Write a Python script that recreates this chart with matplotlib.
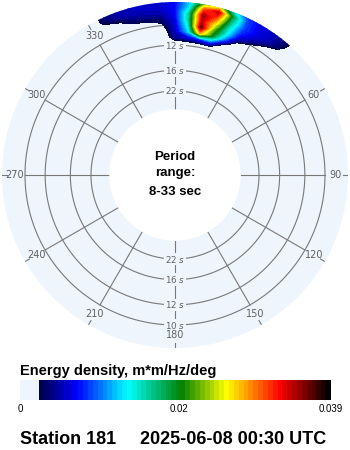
import numpy as np
import matplotlib
matplotlib.use("Agg")
import matplotlib.pyplot as plt
from matplotlib.colors import LinearSegmentedColormap, Normalize
from matplotlib.cm import ScalarMappable

# ---------------- data ----------------
dirs_deg = [-30, -25, -20, -15, -10, -5, 0, 5, 10, 15, 20, 25, 30, 35, 40, 45]
freqs_hz = [0.080, 0.085, 0.090, 0.095, 0.100, 0.105, 0.110, 0.115, 0.120]
# energy density in 1e-3 m*m/Hz/deg, one row per frequency
energy_milli = [
    [0, 0,   0,   0,   0,   0,   0,   0,  0,  0,  0,   0,   0,   0,   0,   0],
    [0, 0,   0,   0,   0,   0,   0.5, 0.5, 0.5, 0.3, 0, 0,   0,   0,   0,   0],
    [0, 0,   0,   0,   0,   0,   4.5, 6,  8,  10, 1.5, 0,   0,   0,   0,   0],
    [0, 0,   0,   0,   0,   0.5, 5.5, 12, 28, 20, 10,  1.0, 0,   0,   0,   0],
    [0, 0,   0,   0.5, 1.0, 1.8, 6.0, 14, 36, 22, 14,  5.5, 2.2, 0.8, 0,   0],
    [0, 0,   1.0, 2.2, 2.8, 3.4, 6.5, 16, 34, 26, 15,  8,   5.5, 2.0, 0.5, 0],
    [0, 1.5, 2.5, 4.2, 4.8, 5.0, 7.0, 16, 35, 30, 17,  9,   6.5, 5.0, 2.0, 0],
    [0, 3.0, 4.8, 5.4, 5.6, 5.8, 7.2, 13, 30, 34, 19,  9,   6.5, 5.5, 3.0, 0],
    [0, 3.5, 5.0, 5.6, 5.8, 6.0, 7.0, 12, 22, 24, 14,  8.5, 6.5, 5.5, 3.5, 0],
]
ring_periods = [10, 12, 16, 22]
spoke_deg = list(range(0, 360, 30))
deg_labels = ["0", "30", "60", "90", "120", "150", "180", "210", "240", "270", "300", "330"]
cbar_ticks = [0, 0.02, 0.039]
cbar_ticklabels = ["0", "0.02", "0.039"]
vmax = 0.039

# ---------------- style ----------------
BG = "#EEF5FD"
GRID = "#787878"
LBL = "#606060"
R_ORIGIN = -0.024
F_MIN = 1 / 33
F_MAX = 0.119

cmap = LinearSegmentedColormap.from_list(
    "wave",
    [(0.0, BG), (0.0624, BG), (0.0625, "#000050"), (0.18, "#0000FF"),
     (0.344, "#00FFFF"), (0.52, "#008000"), (0.666, "#FFFF00"),
     (0.84, "#FF0000"), (1.0, "#000000")],
    N=64,
)
norm = Normalize(0, vmax)

fig = plt.figure(figsize=(3.5, 4.5), dpi=100)
ax = fig.add_axes([2 / 350, 102 / 450, 346 / 350, 346 / 450], projection="polar")
ax.set_theta_zero_location("N")
ax.set_theta_direction(-1)
ax.set_rorigin(R_ORIGIN)
ax.set_ylim(F_MIN, F_MAX)
ax.set_xticks([])
ax.set_yticks([])
ax.grid(False)
for sp in ax.spines.values():
    sp.set_visible(False)
    sp.set_edgecolor("none")
    sp.set_linewidth(0)
ax.set_facecolor(BG)
ax.patch.set_edgecolor("none")

# grid rings and spokes
th = np.linspace(0, 2 * np.pi, 721)
for p in ring_periods:
    ax.plot(th, np.full_like(th, 1 / p), color=GRID, lw=0.8, zorder=1)
for d in spoke_deg:
    t = np.deg2rad(d)
    ax.plot([t, t], [F_MIN, 0.1], color=GRID, lw=0.8, zorder=1)
    ax.plot([t, t], [0.1149, F_MAX], color=GRID, lw=0.8, zorder=1)

for d, lab in zip(spoke_deg, deg_labels):
    ax.text(np.deg2rad(d), 0.1085, lab, ha="center", va="center",
            fontsize=7, color=LBL, zorder=1.7, family="DejaVu Sans")

for p in ring_periods:
    for t in (0, np.pi):
        ax.text(t, 1 / p, f"{p} $\\mathit{{s}}$", ha="center", va="center",
                fontsize=6.3, color=LBL, zorder=1.6, family="DejaVu Sans",
                bbox=dict(boxstyle="square,pad=0.08", fc=BG, ec="none"))

# energy blob
Z = np.array(energy_milli) * 1e-3
levels = np.linspace(0, vmax, 65)[4:]
ax.contourf(np.deg2rad(dirs_deg), freqs_hz, Z, levels=levels, cmap=cmap,
            norm=norm, zorder=3, extend="max")

# center text
fam = ["Liberation Sans", "DejaVu Sans"]
fig.text(0.5, 1 - 160 / 450, "Period", ha="center", va="baseline",
         fontsize=9.5, fontweight="bold", family=fam)
fig.text(0.5, 1 - 176 / 450, "range:", ha="center", va="baseline",
         fontsize=9.5, fontweight="bold", family=fam)
fig.text(0.5, 1 - 195 / 450, "8-33 sec", ha="center", va="baseline",
         fontsize=9.5, fontweight="bold", family=fam)

# colorbar
cax = fig.add_axes([20 / 350, 1 - 400 / 450, 311 / 350, 20 / 450])
cb = fig.colorbar(ScalarMappable(norm=norm, cmap=cmap), cax=cax,
                  orientation="horizontal", ticks=cbar_ticks)
cb.outline.set_visible(False)
cb.ax.set_xticklabels(cbar_ticklabels)
cb.ax.tick_params(length=0, pad=3, labelsize=7)
for tl in cb.ax.get_xticklabels():
    tl.set_family(fam)

fig.text(20 / 350, 1 - 375 / 450, "Energy density, m*m/Hz/deg", ha="left",
         va="baseline", fontsize=10.5, fontweight="bold", family=fam)
fig.text(20 / 350, 1 - 444 / 450, "Station 181", ha="left", va="baseline",
         fontsize=13, fontweight="bold", family=fam)
fig.text(140 / 350, 1 - 444 / 450, "2025-06-08 00:30 UTC", ha="left",
         va="baseline", fontsize=13, fontweight="bold", family=fam)

fig.savefig("out.png", dpi=100, facecolor="white")
